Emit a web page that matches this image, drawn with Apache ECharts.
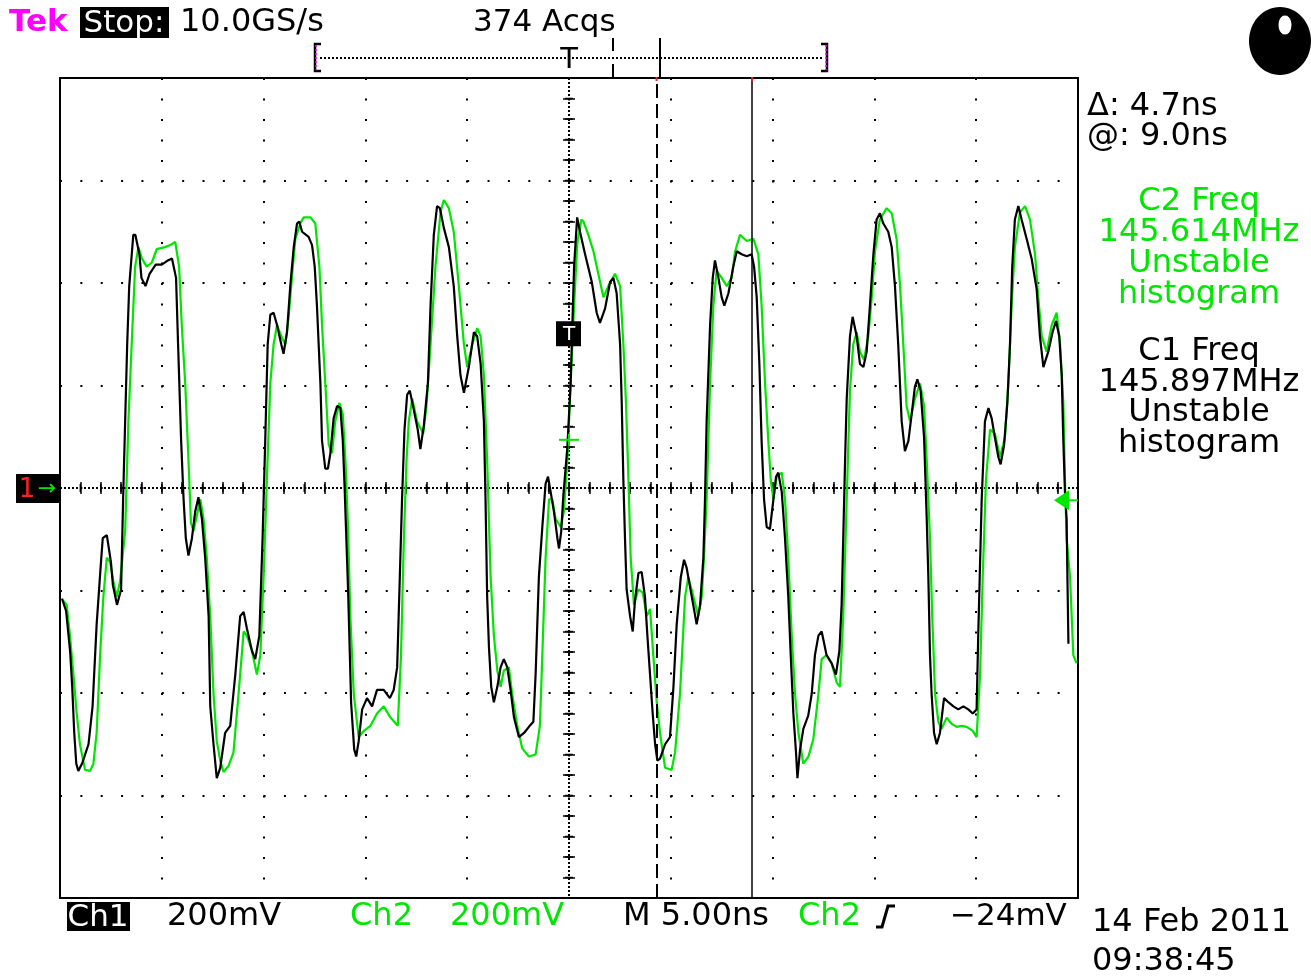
<!DOCTYPE html>
<html>
<head>
<meta charset="utf-8">
<script src="https://cdn.jsdelivr.net/npm/echarts@6/dist/echarts.min.js"></script>
<style>
html,body{margin:0;padding:0;background:#fff;}
#chart{width:1311px;height:977px;}
</style>
</head>
<body>
<div id="chart"></div>
<script>
// Time axis in ns (trigger at 0, 5 ns/div), vertical values in divisions (200 mV/div)
const ch1Time = [-24.9,-24.7,-24.5,-24.4,-24.3,-24.2,-24.1,-23.9,-23.6,-23.4,-23.2,-23.0,-22.9,-22.7,-22.5,-22.4,-22.2,-22.0,-21.9,-21.8,-21.7,-21.6,-21.4,-21.3,-21.1,-21.0,-20.8,-20.6,-20.3,-20.0,-19.7,-19.5,-19.3,-19.2,-19.05,-18.93,-18.82,-18.69,-18.52,-18.36,-18.2,-18.03,-17.87,-17.7,-17.62,-17.46,-17.3,-17.13,-16.89,-16.64,-16.39,-16.15,-15.98,-15.82,-15.57,-15.41,-15.21,-15.05,-14.92,-14.8,-14.67,-14.51,-14.34,-14.13,-14.02,-13.85,-13.69,-13.52,-13.36,-13.25,-13.11,-12.79,-12.62,-12.49,-12.38,-12.21,-12.13,-11.97,-11.84,-11.72,-11.56,-11.39,-11.23,-11.11,-11.02,-10.85,-10.7,-10.55,-10.45,-10.33,-10.16,-9.92,-9.67,-9.43,-9.1,-8.8,-8.61,-8.44,-8.31,-8.2,-8.08,-7.95,-7.82,-7.62,-7.43,-7.3,-7.13,-6.93,-6.8,-6.64,-6.48,-6.34,-6.15,-5.9,-5.66,-5.49,-5.33,-5.16,-4.92,-4.67,-4.51,-4.34,-4.18,-4.1,-4.02,-3.93,-3.82,-3.69,-3.52,-3.36,-3.2,-3.03,-2.87,-2.7,-2.46,-2.21,-1.97,-1.75,-1.64,-1.48,-1.31,-1.15,-1.03,-0.9,-0.74,-0.57,-0.49,-0.38,-0.28,-0.08,0.08,0.25,0.4,0.54,0.79,1.12,1.36,1.52,1.77,2.02,2.18,2.34,2.51,2.59,2.67,2.75,2.83,3.0,3.13,3.24,3.41,3.57,3.73,3.85,3.98,4.11,4.23,4.34,4.47,4.72,4.96,5.13,5.29,5.49,5.65,5.78,6.03,6.27,6.44,6.6,6.68,6.76,6.93,7.06,7.17,7.34,7.5,7.63,7.83,8.07,8.24,8.48,8.73,8.97,9.09,9.22,9.35,9.46,9.58,9.71,9.87,10.04,10.17,10.28,10.45,10.61,10.77,10.89,11.02,11.15,11.22,11.35,11.51,11.75,11.92,12.08,12.25,12.41,12.65,12.9,13.11,13.28,13.39,13.47,13.56,13.64,13.8,13.93,14.13,14.29,14.46,14.62,14.78,14.95,15.11,15.27,15.44,15.68,15.85,16.01,16.17,16.34,16.5,16.67,16.83,16.99,17.11,17.27,17.44,17.57,17.65,17.73,17.81,17.93,18.06,18.22,18.42,18.63,18.88,19.12,19.37,19.61,19.83,20.02,20.1,20.27,20.43,20.6,20.76,20.92,21.09,21.2,21.37,21.53,21.66,21.77,21.9,22.07,22.23,22.48,22.72,22.97,23.13,23.3,23.54,23.75,23.92,24.08,24.2,24.28,24.36,24.44,24.48,24.53];
const ch1Div = [-1.08,-1.2,-1.6,-1.94,-2.39,-2.69,-2.76,-2.68,-2.5,-2.13,-1.33,-0.76,-0.49,-0.46,-0.72,-0.95,-1.14,-0.99,-0.11,0.65,1.4,1.97,2.47,2.47,2.28,2.05,1.97,2.09,2.18,2.18,2.22,2.24,2.05,1.4,0.46,-0.11,-0.49,-0.66,-0.49,-0.23,-0.09,-0.3,-0.68,-1.25,-2.13,-2.5,-2.83,-2.73,-2.39,-2.32,-1.82,-1.25,-1.21,-1.37,-1.59,-1.67,-1.44,-0.49,0.46,1.4,1.69,1.71,1.59,1.4,1.31,1.52,1.97,2.35,2.58,2.6,2.5,2.45,2.37,2.16,1.78,1.02,0.46,0.19,0.19,0.34,0.68,0.8,0.78,0.46,0,-1.0,-2.1,-2.55,-2.62,-2.47,-2.16,-2.05,-2.13,-1.97,-1.97,-2.05,-1.97,-1.75,-0.87,-0.11,0.57,0.91,0.95,0.76,0.57,0.38,0.61,1.02,1.78,2.47,2.75,2.73,2.54,2.35,1.97,1.48,1.1,0.93,1.18,1.52,1.48,1.21,0.65,-0.11,-1.06,-1.56,-1.94,-2.09,-1.94,-1.75,-1.67,-1.75,-1.97,-2.24,-2.43,-2.39,-2.33,-2.28,-1.82,-0.87,-0.38,0.04,0.11,-0.04,-0.23,-0.49,-0.59,-0.42,-0.08,0.4,1.02,2.16,2.64,2.5,2.28,2.01,1.71,1.61,1.75,2.01,2.05,1.9,1.4,0.83,0.08,-0.49,-0.99,-1.25,-1.4,-1.1,-0.83,-0.82,-1.06,-1.44,-1.82,-2.2,-2.5,-2.66,-2.64,-2.5,-2.43,-1.94,-1.33,-0.87,-0.7,-0.78,-1.06,-1.33,-1.14,-0.68,-0.11,0.65,1.59,2.05,2.22,2.05,1.86,1.78,1.9,2.16,2.31,2.28,2.26,2.28,2.16,1.86,1.21,0.46,-0.11,-0.38,-0.4,-0.11,0.11,0.15,-0.04,-0.49,-1.06,-1.63,-2.2,-2.58,-2.83,-2.55,-2.35,-2.22,-2.01,-1.63,-1.44,-1.4,-1.63,-1.71,-1.82,-1.59,-1.14,-0.49,0.27,0.87,1.48,1.67,1.48,1.21,1.18,1.33,1.78,2.28,2.62,2.68,2.58,2.5,2.35,1.97,1.4,0.65,0.36,0.46,0.72,0.99,1.06,0.95,0.49,-0.3,-0.87,-1.63,-2.01,-2.39,-2.5,-2.39,-2.05,-2.09,-2.13,-2.16,-2.13,-2.16,-2.2,-2.16,-1.44,-0.11,0.65,0.78,0.68,0.49,0.3,0.23,0.42,0.83,1.4,2.16,2.62,2.75,2.62,2.43,2.24,1.94,1.48,1.18,1.33,1.52,1.63,1.48,1.1,0.46,-0.04,-0.3,-0.87,-1.52];
const ch2Time = [-24.84,-24.67,-24.51,-24.34,-24.18,-24.02,-23.77,-23.52,-23.36,-23.2,-23.03,-22.87,-22.7,-22.54,-22.38,-22.21,-22.05,-21.8,-21.64,-21.48,-21.31,-21.15,-20.98,-20.74,-20.49,-20.25,-19.84,-19.59,-19.34,-19.15,-19.02,-18.85,-18.69,-18.57,-18.44,-18.28,-18.11,-17.95,-17.79,-17.62,-17.46,-17.3,-17.13,-16.97,-16.72,-16.48,-16.23,-15.98,-15.82,-15.57,-15.33,-15.16,-15.0,-14.84,-14.67,-14.51,-14.34,-14.13,-13.93,-13.77,-13.61,-13.44,-13.2,-13.03,-12.7,-12.46,-12.26,-12.13,-11.97,-11.8,-11.64,-11.48,-11.28,-11.11,-10.98,-10.85,-10.74,-10.57,-10.33,-10.08,-9.75,-9.43,-9.1,-8.77,-8.41,-8.25,-8.11,-7.98,-7.87,-7.7,-7.46,-7.16,-7.0,-6.8,-6.56,-6.31,-6.15,-5.9,-5.66,-5.41,-5.16,-5.0,-4.75,-4.51,-4.34,-4.18,-4.02,-3.85,-3.69,-3.52,-3.36,-3.2,-2.95,-2.79,-2.54,-2.3,-1.97,-1.64,-1.43,-1.31,-1.15,-0.98,-0.82,-0.66,-0.41,-0.25,-0.08,0.08,0.25,0.41,0.61,0.71,0.95,1.2,1.44,1.69,1.93,2.26,2.51,2.67,2.8,2.92,3.03,3.19,3.41,3.62,3.82,3.98,4.14,4.31,4.47,4.72,5.04,5.21,5.45,5.7,5.86,6.11,6.35,6.52,6.63,6.76,6.93,7.09,7.25,7.5,7.75,7.99,8.16,8.4,8.73,9.06,9.3,9.46,9.63,9.79,9.91,10.04,10.2,10.45,10.61,10.77,10.94,11.1,11.27,11.51,11.76,12.0,12.25,12.41,12.65,12.9,13.15,13.31,13.47,13.64,13.8,13.96,14.13,14.29,14.49,14.7,14.87,15.03,15.27,15.6,15.85,16.09,16.26,16.42,16.58,16.75,16.99,17.24,17.44,17.57,17.73,17.84,17.98,18.14,18.3,18.55,18.79,19.04,19.29,19.53,19.83,20.02,20.19,20.32,20.48,20.68,20.92,21.17,21.41,21.58,21.74,21.9,22.15,22.4,22.64,22.89,23.05,23.22,23.46,23.71,23.95,24.12,24.28,24.36,24.44,24.61,24.69,24.77,24.93];
const ch2Div = [-1.1,-1.14,-1.44,-1.82,-2.2,-2.5,-2.75,-2.76,-2.69,-2.39,-1.63,-1.06,-0.68,-0.72,-0.91,-1.06,-0.91,-0.42,0.65,1.4,2.16,2.35,2.24,2.16,2.2,2.33,2.35,2.37,2.4,2.16,1.59,1.02,0.27,-0.34,-0.42,-0.27,-0.11,-0.3,-0.68,-1.25,-2.01,-2.47,-2.66,-2.77,-2.71,-2.58,-2.01,-1.4,-1.44,-1.59,-1.82,-1.63,-0.87,0.08,1.02,1.4,1.59,1.48,1.4,1.67,2.05,2.43,2.58,2.64,2.64,2.58,2.16,1.59,1.02,0.42,0.34,0.65,0.83,0.72,0.27,-0.4,-1.25,-2.01,-2.43,-2.37,-2.32,-2.2,-2.13,-2.24,-2.32,-1.63,-0.49,0.27,0.65,0.87,0.65,0.53,0.8,1.4,2.16,2.69,2.81,2.73,2.5,1.97,1.4,1.18,1.4,1.56,1.48,1.1,0.27,-0.87,-1.44,-1.78,-1.94,-1.78,-1.75,-2.01,-2.32,-2.54,-2.62,-2.6,-2.32,-1.63,-0.68,-0.11,-0.11,-0.3,-0.38,-0.23,0.27,1.02,1.78,2.39,2.62,2.6,2.47,2.31,2.09,1.86,1.97,2.09,1.97,1.4,0.83,0.08,-0.68,-1.14,-0.99,-1.02,-1.25,-1.18,-1.63,-2.09,-2.39,-2.73,-2.75,-2.58,-2.01,-1.06,-0.87,-1.06,-1.25,-1.06,-0.68,-0.11,1.02,1.78,2.12,2.05,1.97,2.05,2.31,2.47,2.41,2.43,2.28,1.78,1.02,0.46,0.08,-0.11,0.11,0.15,-0.11,-0.68,-1.44,-2.01,-2.39,-2.69,-2.62,-2.45,-2.01,-1.67,-1.63,-1.71,-1.9,-1.94,-1.25,-0.11,0.95,1.4,1.52,1.33,1.25,1.48,1.86,2.31,2.62,2.73,2.68,2.43,1.97,1.4,0.8,0.65,0.87,1.02,0.8,0.27,-0.49,-1.25,-2.01,-2.28,-2.35,-2.24,-2.3,-2.33,-2.32,-2.33,-2.37,-2.43,-1.82,-0.87,0.08,0.57,0.53,0.3,0.49,1.02,1.78,2.35,2.69,2.75,2.62,2.28,1.86,1.48,1.33,1.59,1.71,1.4,0.83,0.08,-0.49,-0.87,-1.25,-1.63,-1.71];
const cursorA = 4.3;   // dashed cursor (ns)
const cursorB = 9.0;   // solid cursor (ns), delta 4.7 ns
const statusTop = ['Tek', 'Stop:', '10.0GS/s', '374 Acqs'];
const cursorText = ['\u0394: 4.7ns', '@: 9.0ns'];
const c2Meas = ['C2 Freq', '145.614MHz', 'Unstable', 'histogram'];
const c1Meas = ['C1 Freq', '145.897MHz', 'Unstable', 'histogram'];
const bottomText = ['Ch1', '200mV', 'Ch2', '200mV', 'M 5.00ns', 'Ch2', '\u221224mV', '14 Feb 2011', '09:38:45'];

const GREEN = '#00e600';
const FONT = '"DejaVu Sans", sans-serif';
const FS = 32;
const pairs = (t, v) => t.map((x, i) => [x, v[i]]);

// graticule items (center cross ticks), decoration only
const grat = [];
for (let i = 0; i <= 50; i++) grat.push([-25 + i, 0, 0]);
for (let j = 0; j <= 40; j++) grat.push([0, -4 + j * 0.2, 1]);
grat.push([0, 0, 2]);

const chart = echarts.init(document.getElementById('chart'), null, {renderer: 'canvas'});

function txt(text, x, y, size, color, align, extra) {
  return Object.assign({
    type: 'text', silent: true, z: 50,
    style: {text: text, x: x, y: y, font: size + 'px ' + FONT, fill: color, align: align || 'left', verticalAlign: 'middle'}
  }, extra || {});
}

const axisTickCommon = {show: true, inside: true, length: 6, lineStyle: {color: '#000', width: 1.5}};
const minorTickCommon = {show: true, splitNumber: 5, length: 6, lineStyle: {color: '#000', width: 1.5}};

const option = {
  animation: false,
  backgroundColor: '#fff',
  grid: {left: 60, top: 78, width: 1018, height: 820, show: true, borderColor: '#000', borderWidth: 2, backgroundColor: '#fff'},
  xAxis: [
    {type: 'value', min: -25, max: 25, interval: 5, position: 'bottom',
     axisLine: {show: false}, axisLabel: {show: false},
     axisTick: axisTickCommon, minorTick: minorTickCommon,
     splitLine: {show: true, lineStyle: {color: '#000', width: 2, type: [2, 18.5]}}},
    {type: 'value', min: -25, max: 25, interval: 5, position: 'top',
     axisLine: {show: false}, axisLabel: {show: false},
     axisTick: axisTickCommon, minorTick: minorTickCommon, splitLine: {show: false}}
  ],
  yAxis: [
    {type: 'value', min: -4, max: 4, interval: 1, position: 'left',
     axisLine: {show: false}, axisLabel: {show: false},
     axisTick: axisTickCommon, minorTick: minorTickCommon,
     splitLine: {show: true, lineStyle: {color: '#000', width: 2, type: [2, 18.36]}}},
    {type: 'value', min: -4, max: 4, interval: 1, position: 'right',
     axisLine: {show: false}, axisLabel: {show: false},
     axisTick: axisTickCommon, minorTick: minorTickCommon, splitLine: {show: false}}
  ],
  series: [
    {
      type: 'custom', name: 'graticule', silent: true, z: 1,
      xAxisIndex: 0, yAxisIndex: 0,
      data: grat,
      renderItem: function (params, api) {
        const k = api.value(2);
        if (k === 2) {
          const a = api.coord([-25, 0]), b = api.coord([25, 0]);
          const c = api.coord([0, 4]), d = api.coord([0, -4]);
          return {type: 'group', children: [
            {type: 'line', shape: {x1: a[0], y1: a[1], x2: b[0], y2: b[1]}, style: {stroke: '#000', lineWidth: 2, lineDash: [2, 2]}},
            {type: 'line', shape: {x1: c[0], y1: c[1], x2: d[0], y2: d[1]}, style: {stroke: '#000', lineWidth: 2, lineDash: [2, 2]}}
          ]};
        }
        const p = api.coord([api.value(0), api.value(1)]);
        if (k === 0) {
          return {type: 'line', shape: {x1: p[0], y1: p[1] - 4, x2: p[0], y2: p[1] + 4}, style: {stroke: '#000', lineWidth: 1.5}};
        }
        return {type: 'line', shape: {x1: p[0] - 4, y1: p[1], x2: p[0] + 4, y2: p[1]}, style: {stroke: '#000', lineWidth: 1.5}};
      }
    },
    {
      type: 'line', name: 'Ch2', data: pairs(ch2Time, ch2Div), showSymbol: false, symbol: 'none',
      smooth: false, z: 3, silent: true,
      lineStyle: {color: GREEN, width: 2.2}
    },
    {
      type: 'line', name: 'Ch1', data: pairs(ch1Time, ch1Div), showSymbol: false, symbol: 'none',
      smooth: false, z: 4, silent: true,
      lineStyle: {color: '#000', width: 2.2},
      markLine: {
        silent: true, symbol: 'none', label: {show: false},
        data: [
          {xAxis: cursorA, lineStyle: {color: '#000', width: 2, type: [14, 6]}},
          {xAxis: cursorB, lineStyle: {color: '#000', width: 1.5, type: 'solid'}}
        ]
      }
    }
  ],
  graphic: []
};
chart.setOption(option);

// annotations
const g = [];
// status line
g.push({type: 'text', silent: true, z: 50, style: {text: statusTop[0], x: 9, y: 23, font: 'bold 31px ' + FONT, fill: '#ff00ff', verticalAlign: 'middle'}});
g.push({type: 'rect', silent: true, z: 49, shape: {x: 80, y: 7, width: 89, height: 31}, style: {fill: '#000'}});
g.push(txt(statusTop[1], 124, 24, 31, '#fff', 'center'));
g.push(txt(statusTop[2], 180, 23, FS, '#000'));
g.push(txt(statusTop[3], 473, 23, 31, '#000'));
// record bar
g.push({type: 'line', silent: true, z: 50, shape: {x1: 320, y1: 58, x2: 822, y2: 58}, style: {stroke: '#000', lineWidth: 2, lineDash: [2, 2]}});
g.push({type: 'polyline', silent: true, z: 50, shape: {points: [[321, 44], [315, 44], [315, 71], [321, 71]]}, style: {stroke: '#000', lineWidth: 2.5, fill: null}});
g.push({type: 'line', silent: true, z: 51, shape: {x1: 316, y1: 45, x2: 316, y2: 70}, style: {stroke: '#ff00ff', lineWidth: 1.5, lineDash: [2, 2]}});
g.push({type: 'polyline', silent: true, z: 50, shape: {points: [[821, 44], [827, 44], [827, 71], [821, 71]]}, style: {stroke: '#000', lineWidth: 2.5, fill: null}});
g.push({type: 'line', silent: true, z: 51, shape: {x1: 826, y1: 45, x2: 826, y2: 70}, style: {stroke: '#ff00ff', lineWidth: 1.5, lineDash: [2, 2]}});
g.push(txt('T', 569, 60, 29, '#000', 'center'));
g.push({type: 'line', silent: true, z: 50, shape: {x1: 613, y1: 38, x2: 613, y2: 51}, style: {stroke: '#000', lineWidth: 2}});
g.push({type: 'line', silent: true, z: 50, shape: {x1: 613, y1: 64, x2: 613, y2: 77}, style: {stroke: '#000', lineWidth: 2}});
g.push({type: 'line', silent: true, z: 50, shape: {x1: 660, y1: 38, x2: 660, y2: 78}, style: {stroke: '#000', lineWidth: 2}});
// acquisition indicator
g.push({type: 'ellipse', silent: true, z: 50, shape: {cx: 1280, cy: 41, rx: 31, ry: 34}, style: {fill: '#000'}});
g.push({type: 'ellipse', silent: true, z: 51, shape: {cx: 1285, cy: 25, rx: 7, ry: 10}, style: {fill: '#fff', stroke: '#000', lineWidth: 1}});
// cursor readouts
g.push(txt(cursorText[0], 1087, 107, FS, '#000'));
g.push(txt(cursorText[1], 1087, 137, FS, '#000'));
c2Meas.forEach((s, i) => g.push(txt(s, 1199, 202 + i * 31, FS, GREEN, 'center')));
c1Meas.forEach((s, i) => g.push(txt(s, 1199, 352 + i * 30.5, FS, '#000', 'center')));
// bottom line
g.push({type: 'rect', silent: true, z: 49, shape: {x: 67, y: 902, width: 63, height: 29}, style: {fill: '#000'}});
g.push(txt(bottomText[0], 98, 918, 31, '#fff', 'center'));
g.push(txt(bottomText[1], 167, 917, FS, '#000'));
g.push(txt(bottomText[2], 350, 917, FS, GREEN));
g.push(txt(bottomText[3], 450, 917, FS, GREEN));
g.push(txt(bottomText[4], 623, 917, FS, '#000'));
g.push(txt(bottomText[5], 798, 917, FS, GREEN));
g.push({type: 'polyline', silent: true, z: 50, shape: {points: [[876, 927], [882, 927], [888, 906], [895, 906]]}, style: {stroke: '#000', lineWidth: 3, fill: null}});
g.push(txt(bottomText[6], 950, 917, 31, '#000'));
g.push(txt(bottomText[7], 1092, 923, FS, '#000'));
g.push(txt(bottomText[8], 1092, 962, FS, '#000'));

// markers placed through the axes
const ch1Ref = chart.convertToPixel({xAxisIndex: 0, yAxisIndex: 0}, [-25, 0]);
g.push({type: 'rect', silent: true, z: 52, shape: {x: 16, y: ch1Ref[1] - 14, width: 44, height: 29}, style: {fill: '#000'}});
g.push(txt('1', 27, ch1Ref[1] + 2, 26, '#ff2020', 'center', {z: 53}));
g.push(txt('\u2192', 47, ch1Ref[1] + 1, 22, GREEN, 'center', {z: 53}));
const trigT = chart.convertToPixel({xAxisIndex: 0, yAxisIndex: 0}, [0, 1.5]);
g.push({type: 'rect', silent: true, z: 52, shape: {x: trigT[0] - 13, y: trigT[1] - 13, width: 25, height: 25}, style: {fill: '#000'}});
g.push(txt('T', trigT[0], trigT[1] + 1, 20, '#fff', 'center', {z: 53}));
const trigC = chart.convertToPixel({xAxisIndex: 0, yAxisIndex: 0}, [0, 0.47]);
g.push({type: 'line', silent: true, z: 52, shape: {x1: trigC[0] - 10, y1: trigC[1], x2: trigC[0] + 10, y2: trigC[1]}, style: {stroke: GREEN, lineWidth: 2}});
g.push({type: 'line', silent: true, z: 52, shape: {x1: trigC[0], y1: trigC[1] - 6, x2: trigC[0], y2: trigC[1] + 6}, style: {stroke: GREEN, lineWidth: 2}});
const lvl = chart.convertToPixel({xAxisIndex: 0, yAxisIndex: 0}, [25, -0.12]);
g.push({type: 'polygon', silent: true, z: 52, shape: {points: [[lvl[0] - 24, lvl[1]], [lvl[0] - 9, lvl[1] - 10], [lvl[0] - 9, lvl[1] + 10]]}, style: {fill: GREEN}});
g.push({type: 'line', silent: true, z: 52, shape: {x1: lvl[0] - 10, y1: lvl[1], x2: lvl[0], y2: lvl[1]}, style: {stroke: GREEN, lineWidth: 2}});
// small red cursor marks on the top border
[cursorA, cursorB].forEach(function (c) {
  const p = chart.convertToPixel({xAxisIndex: 0, yAxisIndex: 0}, [c, 4]);
  g.push({type: 'rect', silent: true, z: 53, shape: {x: p[0] - 1, y: p[1] - 1, width: 2, height: 4}, style: {fill: '#ff2020'}});
});

chart.setOption({graphic: g});
</script>
</body>
</html>
